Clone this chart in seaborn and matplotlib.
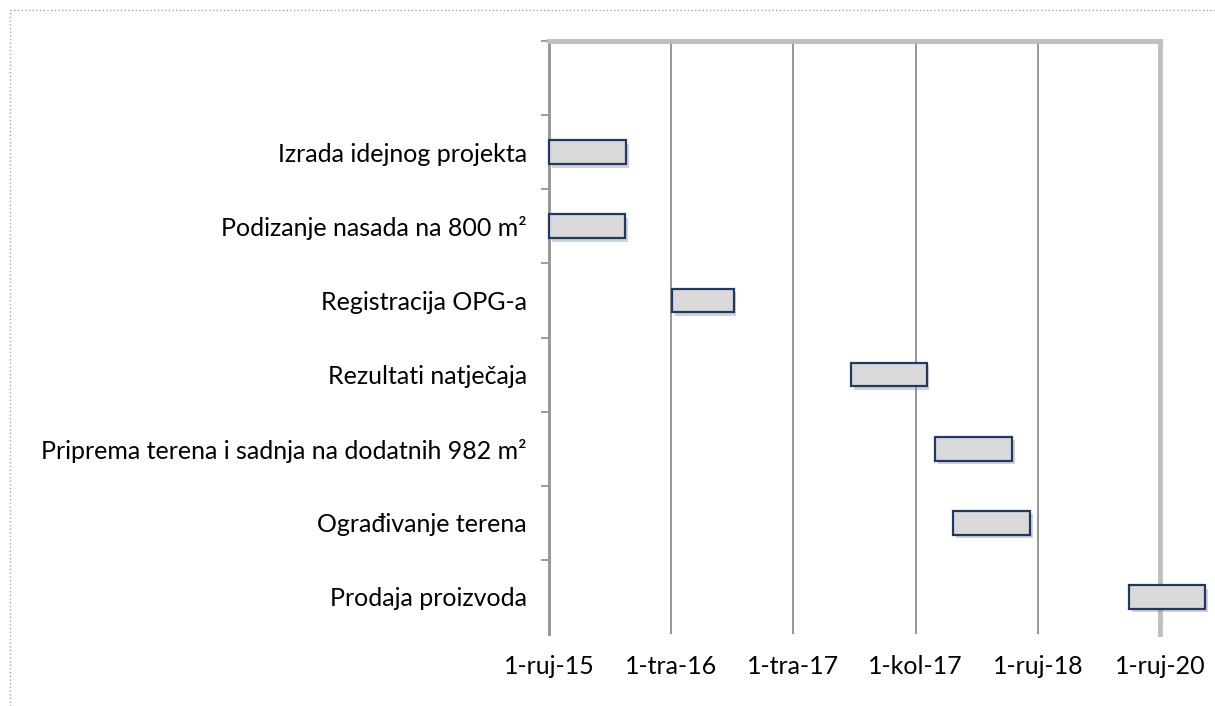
import matplotlib
matplotlib.use("Agg")
import matplotlib.pyplot as plt
import matplotlib.patheffects as pe
from matplotlib.lines import Line2D
import seaborn as sns

# tasks listed top to bottom
tasks = [
    "Izrada idejnog projekta",
    "Podizanje nasada na 800 m²",
    "Registracija OPG-a",
    "Rezultati natječaja",
    "Priprema terena i sadnja na dodatnih 982 m²",
    "Ograđivanje terena",
    "Prodaja proizvoda",
]
starts = [0.0, 0.0, 1.01, 2.47, 3.16, 3.31, 4.75]
durations = [0.63, 0.62, 0.50, 0.62, 0.63, 0.63, 0.62]
date_labels = ["1-ruj-15", "1-tra-16", "1-tra-17", "1-kol-17", "1-ruj-18", "1-ruj-20"]

sns.set_theme(style="white")
plt.rcParams["font.family"] = ["Lato", "DejaVu Sans"]

fig = plt.figure(figsize=(12.15, 7.06), dpi=100)
ax = fig.add_axes([549 / 1215, 1 - 634 / 706, (1160 - 549) / 1215, (634 - 41) / 706])

n = len(tasks)
ypos = [n - 1 - i for i in range(n)]

bars = ax.barh(ypos, durations, left=starts, height=0.32,
               color="#d9d9d9", edgecolor="#1f3864", linewidth=1.6,
               zorder=3, clip_on=False)
for b in bars:
    b.set_path_effects([pe.SimplePatchShadow(offset=(2, -2.5), shadow_rgbFace="#808080", alpha=0.35),
                        pe.Normal()])

ax.set_xlim(0, 5)
ax.set_ylim(-0.5, n + 0.5)

# x axis: evenly spaced date labels with vertical gridlines
ax.set_xticks(range(len(date_labels)))
ax.set_xticklabels(date_labels, fontsize=18, color="black")
ax.tick_params(axis="x", length=0, pad=15)
for i in range(len(date_labels) - 1):
    ax.axvline(i, color="#969696", linewidth=1.4, zorder=1)

# y axis: labels centred, ticks between categories
ax.set_yticks(ypos)
ax.set_yticklabels(tasks, fontsize=18, color="black")
ax.set_yticks([k + 0.5 for k in range(n + 1)], minor=True)
ax.tick_params(axis="y", which="major", length=0, pad=16)
ax.tick_params(axis="y", which="minor", length=6, width=1.2, color="#8c8c8c", left=True)

for side in ["top", "right"]:
    ax.spines[side].set_color("#bfbfbf")
    ax.spines[side].set_linewidth(3.5)
ax.spines["left"].set_color("#9a9a9a")
ax.spines["left"].set_linewidth(2.2)
ax.spines["bottom"].set_visible(False)
ax.grid(False)

# dotted chart-area border
fig.add_artist(Line2D([10 / 1215, 10 / 1215], [0, 1 - 10 / 706], transform=fig.transFigure,
                      color="#a6a6a6", linestyle=":", linewidth=1))
fig.add_artist(Line2D([10 / 1215, 1], [1 - 10 / 706, 1 - 10 / 706], transform=fig.transFigure,
                      color="#a6a6a6", linestyle=":", linewidth=1))

fig.savefig("out.png", dpi=100, facecolor="white")
